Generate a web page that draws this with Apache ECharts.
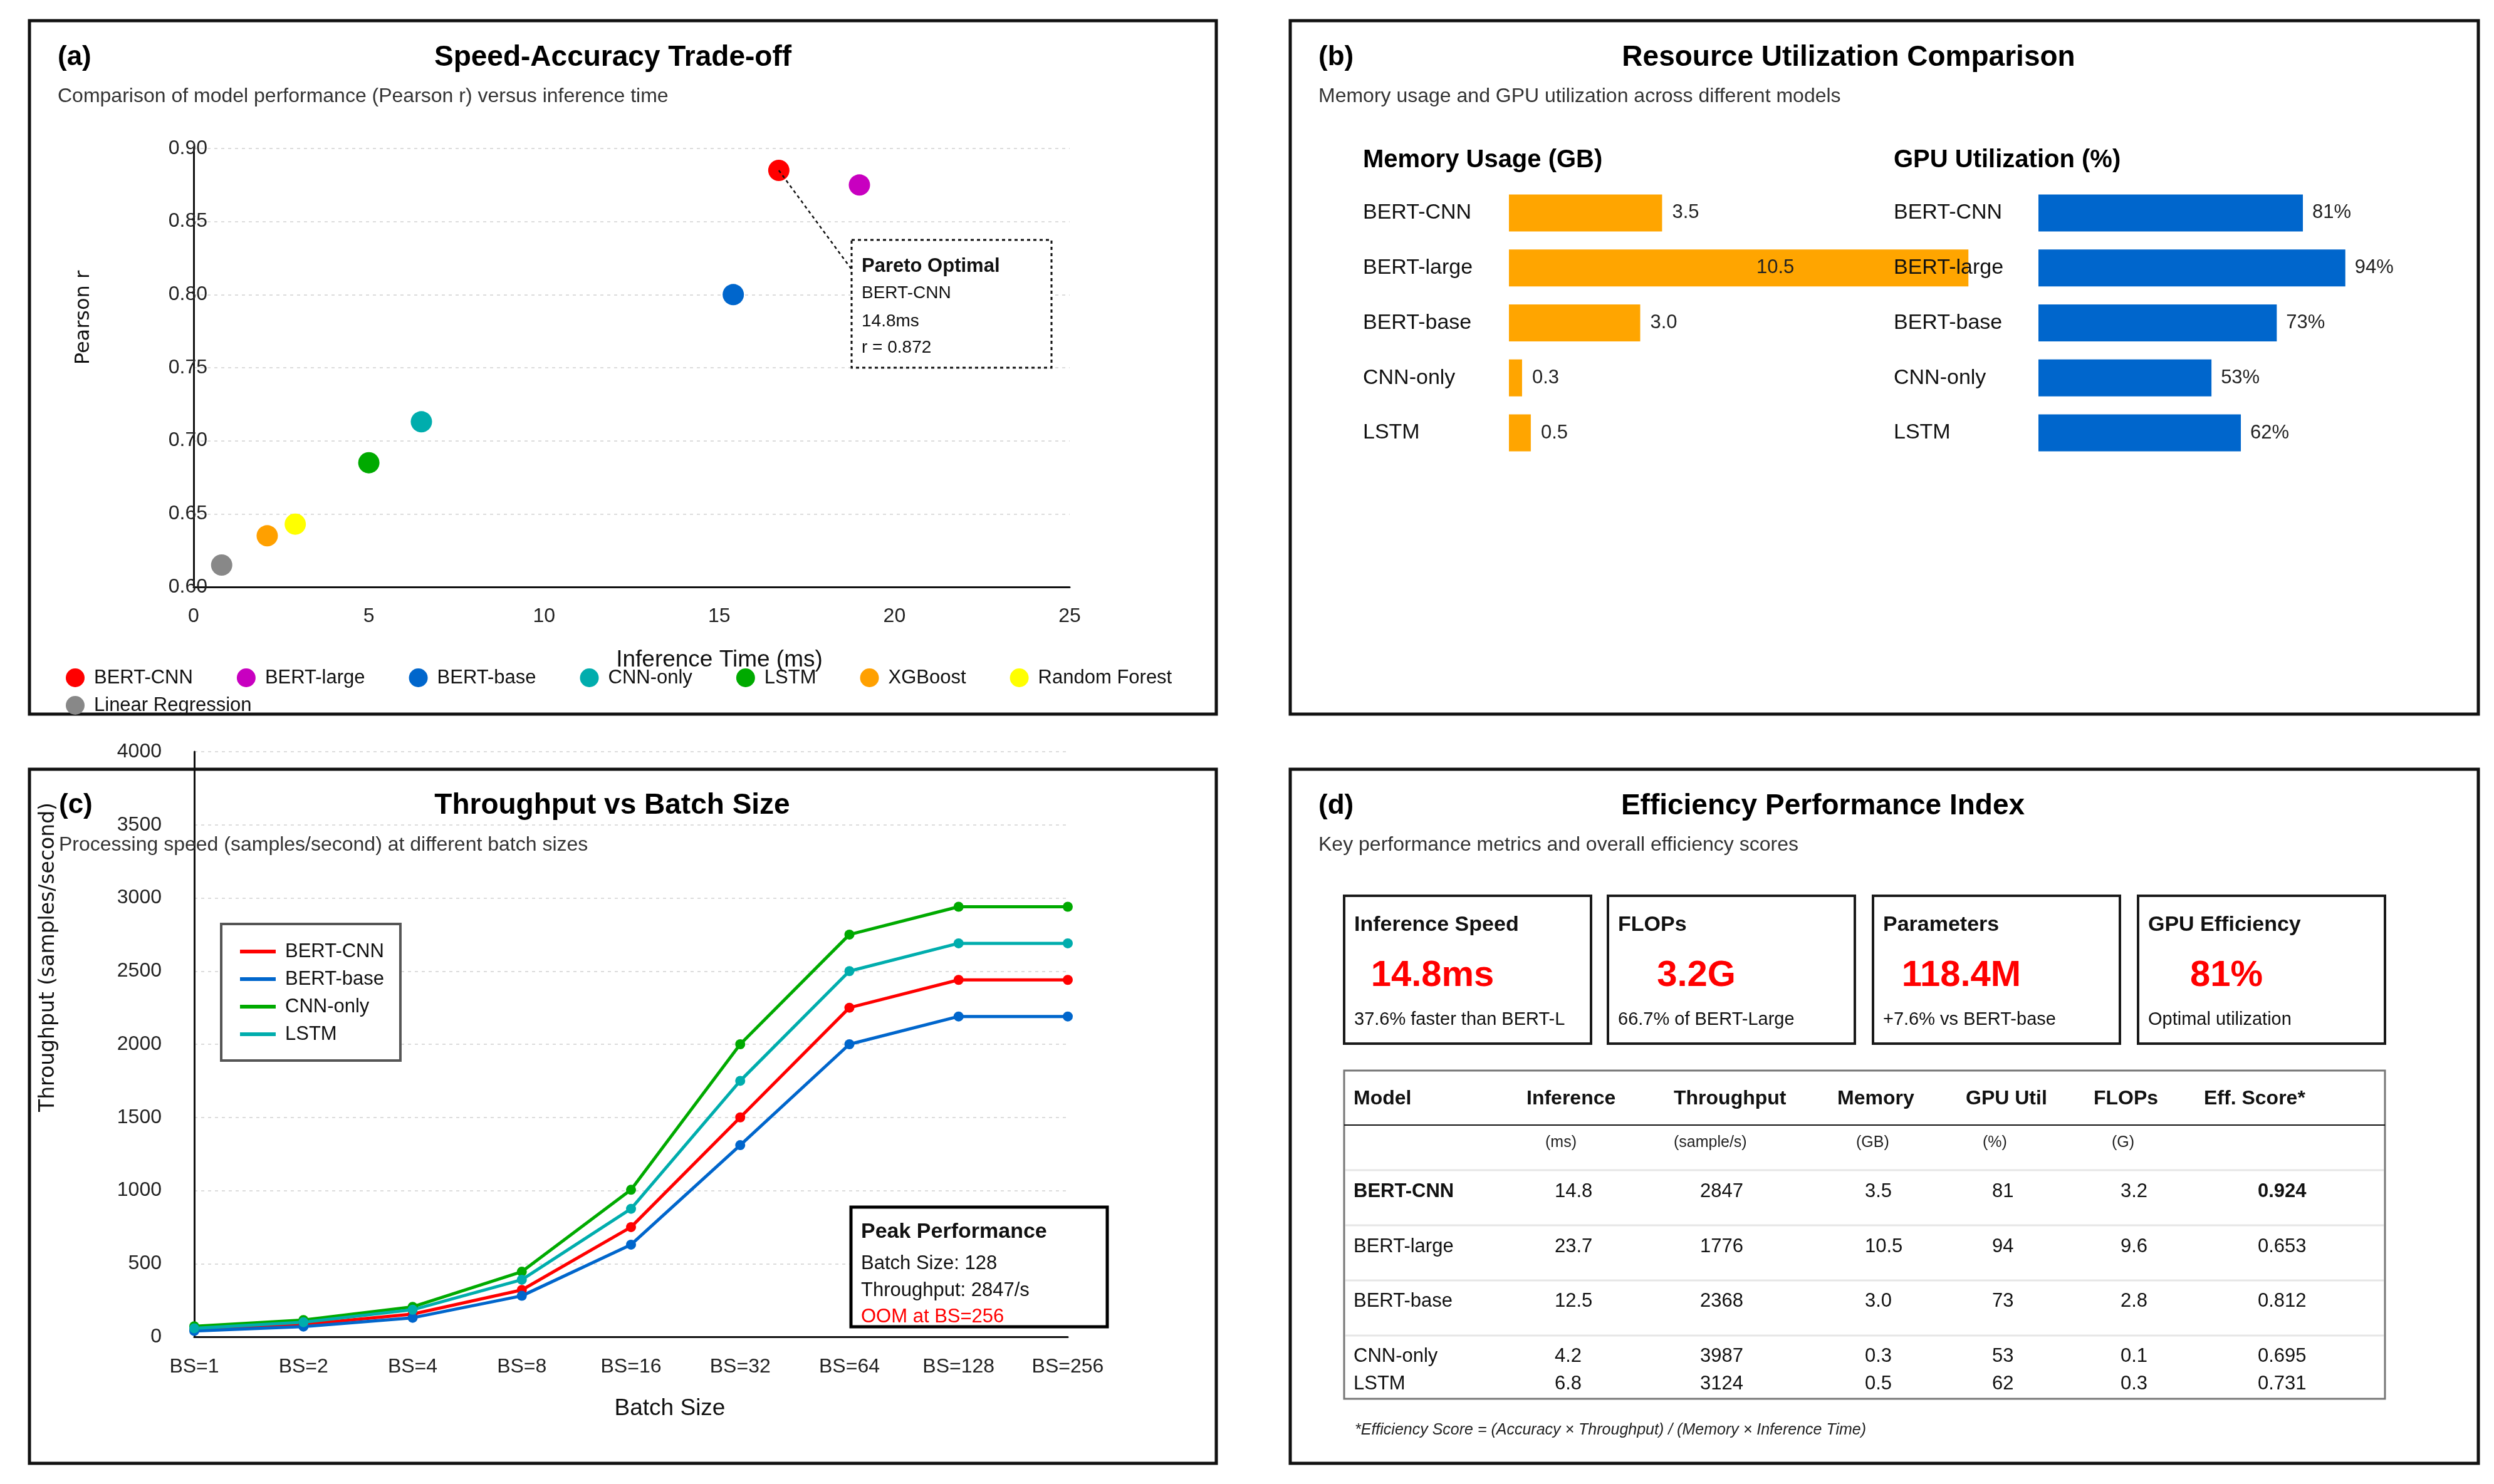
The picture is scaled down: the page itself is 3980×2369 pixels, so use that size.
<!DOCTYPE html>
<html><head><meta charset="utf-8">
<script src="https://cdn.jsdelivr.net/npm/echarts@6/dist/echarts.min.js"></script>
<style>html,body{margin:0;padding:0;background:#fff}#c{width:3980px;height:2369px}</style>
</head><body><div id="c"></div>
<script>
const FONT = '"Liberation Sans", Arial, sans-serif';
const AXFONT = '"DejaVu Sans", sans-serif';

// ---------- (a) Speed-Accuracy Trade-off ----------
const scatterModels = ['BERT-CNN','BERT-large','BERT-base','CNN-only','LSTM','XGBoost','Random Forest','Linear Regression'];
const scatterTime = [16.7, 19.0, 15.4, 6.5, 5.0, 2.1, 2.9, 0.8];
const scatterPearson = [0.885, 0.875, 0.800, 0.713, 0.685, 0.635, 0.643, 0.615];
const scatterColors = ['#ff0000','#c800c0','#0066cc','#00adad','#00aa00','#ffa000','#ffff00','#888888'];
const annotLines = ['Pareto Optimal','BERT-CNN','14.8ms','r = 0.872'];

// ---------- (b) Resource Utilization ----------
const resModels = ['BERT-CNN','BERT-large','BERT-base','CNN-only','LSTM'];
const memoryGB = [3.5, 10.5, 3.0, 0.3, 0.5];
const gpuUtil = [81, 94, 73, 53, 62];

// ---------- (c) Throughput vs Batch Size ----------
const batchSizes = ['BS=1','BS=2','BS=4','BS=8','BS=16','BS=32','BS=64','BS=128','BS=256'];
const lineNames = ['BERT-CNN','BERT-base','CNN-only','LSTM'];
const tpBertCnn  = [50, 85, 155, 320, 750, 1500, 2250, 2440, 2440];
const tpBertBase = [40, 70, 130, 280, 630, 1310, 2000, 2190, 2190];
const tpCnnOnly  = [72, 115, 205, 445, 1005, 2000, 2750, 2940, 2940];
const tpLstm     = [58, 100, 185, 390, 875, 1750, 2500, 2690, 2690];
const lineColors = ['#ff0000','#0066cc','#00aa00','#00adad'];
const peakLines = ['Peak Performance','Batch Size: 128','Throughput: 2847/s','OOM at BS=256'];

// ---------- (d) Efficiency Performance Index ----------
const kpiTitles = ['Inference Speed','FLOPs','Parameters','GPU Efficiency'];
const kpiValues = ['14.8ms','3.2G','118.4M','81%'];
const kpiNotes = ['37.6% faster than BERT-L','66.7% of BERT-Large','+7.6% vs BERT-base','Optimal utilization'];
const tableHeaders = ['Model','Inference','Throughput','Memory','GPU Util','FLOPs','Eff. Score*'];
const tableUnits = ['','(ms)','(sample/s)','(GB)','(%)','(G)',''];
const tableModels = ['BERT-CNN','BERT-large','BERT-base','CNN-only','LSTM'];
const tableInference = [14.8, 23.7, 12.5, 4.2, 6.8];
const tableThroughput = [2847, 1776, 2368, 3987, 3124];
const tableMemory = [3.5, 10.5, 3.0, 0.3, 0.5];
const tableGpu = [81, 94, 73, 53, 62];
const tableFlops = [3.2, 9.6, 2.8, 0.1, 0.3];
const tableScore = [0.924, 0.653, 0.812, 0.695, 0.731];
const footnote = '*Efficiency Score = (Accuracy \u00d7 Throughput) / (Memory \u00d7 Inference Time)';

// ---------- helpers ----------
function txt(x, y, text, size, o) {
  o = o || {};
  return {
    type: 'text', x: x, y: y, z: o.z || 1, rotation: o.rotation || 0,
    style: {
      text: text, fill: o.color || '#111', fontSize: size,
      fontFamily: o.family || FONT, fontWeight: o.weight || 'normal', fontStyle: o.style || 'normal',
      align: o.align || 'left', verticalAlign: 'middle',
      textAlign: o.align || 'left', textVerticalAlign: 'middle'
    }
  };
}
function rect(x, y, w, h, stroke, lw, fill, z, dash) {
  return { type: 'rect', z: z || 0, shape: { x: x, y: y, width: w, height: h },
    style: { fill: fill || 'none', stroke: stroke, lineWidth: lw, lineDash: dash || null } };
}
function hline(x1, x2, y, stroke, lw) {
  return { type: 'line', z: 1, shape: { x1: x1, y1: y, x2: x2, y2: y }, style: { stroke: stroke, lineWidth: lw } };
}

const G = [];
// panel frames
G.push(rect(47, 33, 1894, 1107, '#111', 5));
G.push(rect(2059, 33, 1896, 1107, '#111', 5));
G.push(rect(47, 1228, 1894, 1108, '#111', 5));
G.push(rect(2059, 1228, 1896, 1108, '#111', 5));
// panel titles
const panels = [
  { tag: '(a)', title: 'Speed-Accuracy Trade-off', sub: 'Comparison of model performance (Pearson r) versus inference time', x: 92, cx: 978, y: 92, sy: 154 },
  { tag: '(b)', title: 'Resource Utilization Comparison', sub: 'Memory usage and GPU utilization across different models', x: 2104, cx: 2950, y: 92, sy: 154 },
  { tag: '(c)', title: 'Throughput vs Batch Size', sub: 'Processing speed (samples/second) at different batch sizes', x: 94, cx: 977, y: 1286, sy: 1349 },
  { tag: '(d)', title: 'Efficiency Performance Index', sub: 'Key performance metrics and overall efficiency scores', x: 2104, cx: 2909, y: 1287, sy: 1349 }
];
panels.forEach(p => {
  G.push(txt(p.x, p.y, p.tag, 44, { weight: 'bold', color: '#000' }));
  G.push(txt(p.cx, p.y, p.title, 46, { weight: 'bold', color: '#000', align: 'center' }));
  G.push(txt(p.x, p.sy, p.sub, 32, { color: '#333' }));
});
// (a) axis names
G.push(txt(1148, 1054, 'Inference Time (ms)', 37, { align: 'center' }));
G.push(txt(134, 507, 'Pearson r', 32, { align: 'center', family: AXFONT, rotation: Math.PI / 2 }));
// (a) annotation box
G.push(rect(1359, 383, 319, 204, '#111', 3, '#fff', 5, [5, 5]));
G.push(txt(1375, 425, annotLines[0], 31, { weight: 'bold', z: 6 }));
G.push(txt(1375, 468, annotLines[1], 28, { z: 6 }));
G.push(txt(1375, 513, annotLines[2], 28, { z: 6 }));
G.push(txt(1375, 555, annotLines[3], 28, { z: 6 }));
// (b) section headers
G.push(txt(2175, 256, 'Memory Usage (GB)', 40, { weight: 'bold', color: '#000' }));
G.push(txt(3022, 256, 'GPU Utilization (%)', 40, { weight: 'bold', color: '#000' }));
// (c) axis names
G.push(txt(1069, 2249, 'Batch Size', 37, { align: 'center' }));
G.push(txt(77, 1528, 'Throughput (samples/second)', 33, { align: 'center', family: AXFONT, rotation: Math.PI / 2, z: 3 }));
// (c) peak box
G.push(rect(1358, 1927, 409, 191, '#000', 5, '#fff', 20));
G.push(txt(1374, 1967, peakLines[0], 34, { weight: 'bold', z: 21 }));
G.push(txt(1374, 2017, peakLines[1], 31, { z: 21 }));
G.push(txt(1374, 2060, peakLines[2], 31, { z: 21 }));
G.push(txt(1374, 2102, peakLines[3], 31, { z: 21, color: '#ff0000' }));
// (d) KPI boxes
const kpiLeft = [2145, 2566, 2989, 3412];
kpiTitles.forEach((t, i) => {
  const L = kpiLeft[i];
  G.push(rect(L, 1430, 394, 236, '#1a1a1a', 4));
  G.push(txt(L + 16, 1477, t, 34, { weight: 'bold' }));
  G.push(txt(L + 141, 1558, kpiValues[i], 58, { weight: 'bold', color: '#ff0000', align: 'center' }));
  G.push(txt(L + 16, 1628, kpiNotes[i], 29));
});
// (d) table
G.push(rect(2145, 1709, 1661, 524, '#777', 3));
G.push(hline(2145, 3806, 1796, '#111', 2));
[1868, 1956, 2044, 2132].forEach(y => G.push(hline(2147, 3804, y, '#e6e6e6', 3)));
const headX = [2160, 2436, 2671, 2932, 3137, 3341, 3517];
const unitX = [0, 2466, 2671, 2962, 3164, 3370, 0];
const valX = [2160, 2481, 2713, 2976, 3179, 3384, 3603];
const rowY = [1902, 1990, 2077, 2165, 2209];
tableHeaders.forEach((h, j) => {
  G.push(txt(headX[j], 1754, h, 32, { weight: 'bold' }));
  if (tableUnits[j]) G.push(txt(unitX[j], 1824, tableUnits[j], 25, { color: '#222' }));
});
tableModels.forEach((m, i) => {
  const bold = i === 0 ? 'bold' : 'normal';
  const cells = [m, tableInference[i].toFixed(1), String(tableThroughput[i]), tableMemory[i].toFixed(1),
    String(tableGpu[i]), tableFlops[i].toFixed(1), tableScore[i].toFixed(3)];
  cells.forEach((c, j) => {
    G.push(txt(valX[j], rowY[i], c, 31, { weight: (j === 0 || j === 6) ? bold : 'normal' }));
  });
});
G.push(txt(2162, 2283, footnote, 25, { style: 'italic', color: '#222' }));

// ---------- series ----------
const series = [];
scatterModels.forEach((m, i) => {
  const s = {
    name: m, type: 'scatter', xAxisIndex: 0, yAxisIndex: 0,
    symbol: 'circle', symbolSize: 34, itemStyle: { color: scatterColors[i], opacity: 1 },
    data: [[scatterTime[i], scatterPearson[i]]], z: 3
  };
  if (i === 0) {
    s.markLine = {
      silent: true, symbol: ['none', 'none'], animation: false,
      lineStyle: { type: [5, 5], color: '#111', width: 2.5 }, label: { show: false },
      data: [[{ coord: [scatterTime[0], scatterPearson[0]] }, { x: 1359, y: 430 }]]
    };
  }
  series.push(s);
});
series.push({
  name: 'Memory Usage', type: 'bar', xAxisIndex: 1, yAxisIndex: 1, barWidth: 59, z: 2,
  itemStyle: { color: '#ffa500' },
  label: { show: true, position: 'right', distance: 16, fontSize: 31, fontFamily: FONT, color: '#222',
    formatter: p => Number(p.value).toFixed(1) },
  data: memoryGB.map((v, i) => i === 1
    ? { value: v, label: { position: [395, '50%'], align: 'left', verticalAlign: 'middle' } }
    : v)
});
series.push({
  name: 'GPU Utilization', type: 'bar', xAxisIndex: 2, yAxisIndex: 2, barWidth: 59, z: 2,
  itemStyle: { color: '#0066cc' },
  label: { show: true, position: 'right', distance: 15, fontSize: 31, fontFamily: FONT, color: '#222',
    formatter: p => p.value + '%' },
  data: gpuUtil
});
const tpData = [tpBertCnn, tpBertBase, tpCnnOnly, tpLstm];
lineNames.forEach((n, i) => {
  series.push({
    name: 'c:' + n, type: 'line', xAxisIndex: 3, yAxisIndex: 3,
    symbol: 'circle', symbolSize: 16, showSymbol: true,
    lineStyle: { width: 5, color: lineColors[i] }, itemStyle: { color: lineColors[i] },
    data: tpData[i], z: 3
  });
});

const axisLbl = { fontSize: 32, fontFamily: FONT, color: '#222' };
const splitDash = { show: true, lineStyle: { color: '#dcdcdc', width: 2, type: [5, 6] } };

const option = {
  animation: false,
  backgroundColor: '#ffffff',
  textStyle: { fontFamily: FONT },
  grid: [
    { left: 309, top: 237, width: 1398, height: 700, outerBoundsMode: 'none', containLabel: false },
    { left: 2408, top: 296, width: 838, height: 439, outerBoundsMode: 'none', containLabel: false },
    { left: 3253, top: 296, width: 521, height: 439, outerBoundsMode: 'none', containLabel: false },
    { left: 310, top: 1200, width: 1394, height: 934, outerBoundsMode: 'none', containLabel: false }
  ],
  xAxis: [
    { gridIndex: 0, type: 'value', min: 0, max: 25, interval: 5,
      axisLine: { show: true, onZero: false, lineStyle: { color: '#111', width: 3 } }, axisTick: { show: false },
      axisLabel: Object.assign({ margin: 31 }, axisLbl), splitLine: { show: false } },
    { gridIndex: 1, type: 'value', min: 0, max: 12, show: false },
    { gridIndex: 2, type: 'value', min: 0, max: 100, show: false },
    { gridIndex: 3, type: 'category', data: batchSizes, boundaryGap: false,
      axisLine: { show: true, onZero: false, lineStyle: { color: '#111', width: 3 } }, axisTick: { show: false },
      axisLabel: Object.assign({ margin: 32, interval: 0 }, axisLbl), splitLine: { show: false } }
  ],
  yAxis: [
    { gridIndex: 0, type: 'value', min: 0.6, max: 0.9, interval: 0.05,
      axisLine: { show: true, onZero: false, lineStyle: { color: '#111', width: 3 } }, axisTick: { show: false },
      axisLabel: Object.assign({ margin: -22, formatter: v => v.toFixed(2) }, axisLbl), splitLine: splitDash },
    { gridIndex: 1, type: 'category', data: resModels, inverse: true, z: 10,
      axisLine: { show: false }, axisTick: { show: false }, splitLine: { show: false },
      axisLabel: { align: 'left', margin: 233, fontSize: 34, fontFamily: FONT, color: '#111' } },
    { gridIndex: 2, type: 'category', data: resModels, inverse: true, z: 10,
      axisLine: { show: false }, axisTick: { show: false }, splitLine: { show: false },
      axisLabel: { align: 'left', margin: 231, fontSize: 34, fontFamily: FONT, color: '#111' } },
    { gridIndex: 3, type: 'value', min: 0, max: 4000, interval: 500,
      axisLine: { show: true, onZero: false, lineStyle: { color: '#111', width: 3 } }, axisTick: { show: false },
      axisLabel: Object.assign({ margin: 52, formatter: v => String(v) }, axisLbl), splitLine: splitDash }
  ],
  legend: [
    { data: scatterModels.slice(0, 7), left: 105, top: 1065, width: 1820, orient: 'horizontal', padding: 0,
      icon: 'circle', itemWidth: 30, itemHeight: 30, itemGap: 70, selectedMode: false,
      textStyle: { fontSize: 31, fontFamily: FONT, color: '#111', lineHeight: 34, padding: [0, 0, 0, 10] } },
    { data: scatterModels.slice(7), left: 105, top: 1109, orient: 'horizontal', padding: 0,
      icon: 'circle', itemWidth: 30, itemHeight: 30, itemGap: 70, selectedMode: false,
      textStyle: { fontSize: 31, fontFamily: FONT, color: '#111', lineHeight: 34, padding: [0, 0, 0, 10] } },
    { data: lineNames.map(n => 'c:' + n), left: 353, top: 1475, orient: 'vertical',
      padding: [27, 26, 25, 30], itemGap: 10, icon: 'rect', itemWidth: 57, itemHeight: 6,
      borderColor: '#555', borderWidth: 4, backgroundColor: '#fff', selectedMode: false, z: 10,
      formatter: n => n.replace(/^c:/, ''),
      textStyle: { fontSize: 31, fontFamily: FONT, color: '#111', lineHeight: 34, padding: [0, 0, 0, 10] } }
  ],
  graphic: { elements: G },
  series: series
};

const chart = echarts.init(document.getElementById('c'), null, { renderer: 'canvas', width: 3980, height: 2369 });
chart.setOption(option);
</script>
</body></html>
